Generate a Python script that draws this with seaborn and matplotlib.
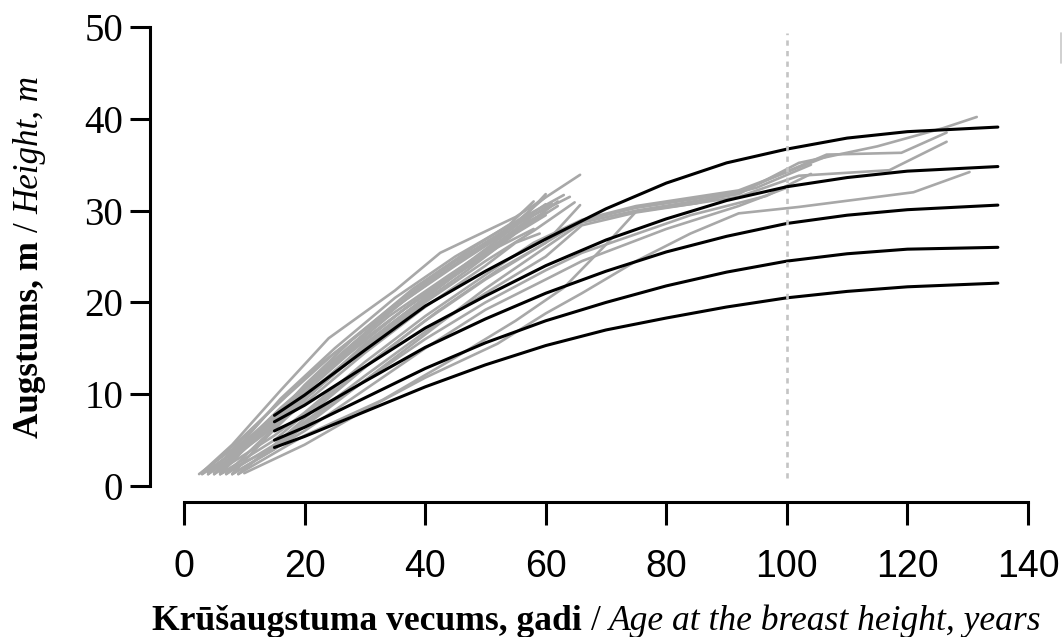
import numpy as np
import pandas as pd
import matplotlib
matplotlib.use("Agg")
import matplotlib.pyplot as plt
import seaborn as sns
from matplotlib.font_manager import FontProperties
from matplotlib.lines import Line2D

# ---------------- data ----------------
x_ticks = [0, 20, 40, 60, 80, 100, 120, 140]
y_ticks = [0, 10, 20, 30, 40, 50]
ref_age = 100

curve_ages = [15, 20, 30, 40, 50, 60, 70, 80, 90, 100, 110, 120, 135]
curve_h1 = [7.7, 9.9, 14.8, 19.6, 23.4, 26.9, 30.2, 33.0, 35.2, 36.7, 37.9, 38.6, 39.1]
curve_h2 = [7.0, 8.8, 13.0, 17.2, 20.7, 24.0, 26.8, 29.1, 31.1, 32.6, 33.6, 34.3, 34.8]
curve_h3 = [6.0, 7.6, 11.4, 15.1, 18.2, 21.0, 23.4, 25.5, 27.2, 28.6, 29.5, 30.1, 30.6]
curve_h4 = [5.0, 6.4, 9.6, 12.8, 15.6, 18.0, 20.0, 21.8, 23.3, 24.5, 25.3, 25.8, 26.0]
curve_h5 = [4.2, 5.4, 8.1, 10.8, 13.2, 15.3, 17.0, 18.3, 19.5, 20.5, 21.2, 21.7, 22.1]

young_ages = [
    [3, 8, 16, 24, 35, 42.5, 55, 65.7],
    [4, 10, 16, 25, 35, 45, 55, 63],
    [3, 10, 17, 25, 35, 45, 55, 64],
    [5, 10, 17, 25, 35, 45, 52, 60],
    [4, 10, 18, 26, 36, 46, 56, 62],
    [6, 12, 20, 28, 38, 48, 58, 60],
    [3, 9, 16, 24, 34, 44, 54, 59],
    [5, 11, 18, 27, 37, 47, 57, 62],
    [7, 12, 20, 30, 40, 50, 58, 61],
    [4, 10, 18, 27, 37, 47, 55, 60],
    [6, 12, 19, 28, 38, 48, 56, 60],
    [3, 8, 15, 24, 34, 44, 52, 58],
    [8, 14, 21, 30, 40, 50, 58, 64.8],
    [5, 11, 20, 30, 40, 50, 57, 60],
    [9, 15, 22, 32, 42, 52, 60, 65.7],
    [2.5, 8, 14, 22, 32, 42, 50, 56],
    [6, 13, 20, 28, 38, 48, 54, 58],
    [4, 12, 20, 30, 40, 50, 55, 59],
]
young_heights = [
    [1.5, 4.5, 10.4, 16.1, 21.3, 25.4, 29.3, 33.9],
    [1.3, 5.0, 9.5, 15.0, 20.5, 25.0, 28.8, 31.7],
    [1.4, 5.5, 9.8, 14.5, 19.8, 24.5, 28.5, 31.5],
    [1.3, 4.5, 9.0, 13.8, 19.5, 24.0, 27.0, 31.5],
    [1.5, 4.8, 9.5, 14.0, 19.0, 23.5, 28.0, 30.5],
    [1.3, 5.5, 10.5, 15.0, 20.0, 24.8, 29.8, 30.7],
    [1.3, 4.0, 8.5, 13.0, 18.5, 23.0, 27.3, 29.5],
    [1.4, 5.0, 9.0, 14.2, 19.5, 24.0, 28.5, 31.0],
    [1.3, 4.5, 9.5, 15.5, 20.5, 25.5, 29.5, 30.8],
    [1.3, 4.2, 8.2, 13.5, 18.8, 23.5, 27.5, 29.5],
    [1.4, 5.5, 10.0, 15.5, 21.0, 25.5, 29.0, 31.8],
    [1.3, 3.5, 7.0, 12.0, 17.5, 22.5, 26.0, 28.0],
    [1.3, 5.5, 10.0, 15.0, 20.0, 24.5, 27.8, 30.9],
    [1.3, 4.5, 9.5, 15.0, 20.5, 25.5, 28.8, 29.8],
    [1.3, 4.5, 8.5, 14.0, 19.0, 23.5, 26.5, 30.6],
    [1.3, 4.0, 8.0, 13.0, 18.0, 22.8, 26.5, 29.0],
    [1.3, 6.0, 11.0, 16.0, 21.5, 26.0, 28.5, 31.0],
    [1.3, 5.0, 9.0, 14.5, 19.5, 24.0, 26.5, 27.5],
]

old_ages = [
    [8, 15, 20, 30, 40, 50, 60, 66, 75, 92, 102, 115, 126, 131.5],
    [6, 15, 20, 30, 40, 50, 60, 66, 75, 92, 106.6, 119, 126.5],
    [7, 15, 20, 30, 40, 50, 60, 66, 75, 92, 102, 117, 126.5],
    [10, 20, 32, 40, 52, 60, 66, 75, 84, 92, 102, 121, 130.3],
    [5, 15, 20, 30, 40, 50, 58, 66, 75, 92, 100, 107],
    [9, 20, 33, 45, 55, 63, 70, 75, 85, 95, 104],
    [6, 15, 20, 30, 40, 50, 60, 66, 84, 96.6, 104],
    [8, 20, 30, 40, 50, 60, 66, 80, 92, 100],
]
old_heights = [
    [1.3, 4.0, 6.5, 11.5, 16.5, 21.5, 26.0, 28.7, 30.0, 31.8, 35.2, 37.0, 39.0, 40.2],
    [1.3, 5.0, 7.8, 13.0, 18.0, 22.5, 26.5, 28.9, 30.3, 32.0, 36.1, 36.3, 38.5],
    [1.3, 4.5, 7.0, 12.0, 16.8, 21.0, 25.0, 28.4, 29.8, 31.5, 33.8, 34.4, 37.5],
    [1.4, 4.5, 9.0, 11.8, 15.5, 18.8, 21.0, 24.5, 27.5, 29.7, 30.4, 32.0, 34.2],
    [1.3, 5.5, 8.0, 13.5, 18.5, 23.0, 26.5, 29.0, 30.5, 32.2, 34.2, 36.0],
    [1.3, 5.5, 9.4, 14.0, 18.0, 21.6, 26.3, 29.9, 30.8, 32.5, 35.0],
    [1.3, 4.2, 6.8, 11.5, 16.0, 20.0, 23.5, 25.4, 29.5, 31.6, 34.0],
    [1.3, 6.0, 10.5, 15.0, 19.2, 22.5, 24.5, 28.0, 30.5, 32.5],
]

x_label_parts = ["Krūšaugstuma vecums, gadi", "/", "Age at the breast height, years"]
y_label_parts = ["Augstums, m", "/", "Height, m"]

# ---------------- tables ----------------
rows = []
for i, (a, h) in enumerate(zip(young_ages + old_ages, young_heights + old_heights)):
    for aa, hh in zip(a, h):
        rows.append({"tree": i, "age": aa, "height": hh})
df_trees = pd.DataFrame(rows)

curve_rows = []
for j, ch in enumerate([curve_h1, curve_h2, curve_h3, curve_h4, curve_h5]):
    for aa, hh in zip(curve_ages, ch):
        curve_rows.append({"curve": j, "age": aa, "height": hh})
df_curves = pd.DataFrame(curve_rows)

# ---------------- figure ----------------
sns.set_theme(style="ticks")
plt.rcParams["font.family"] = ["Liberation Serif", "DejaVu Serif"]

W, H = 1064, 637
fig = plt.figure(figsize=(W / 100, H / 100), dpi=100)
ax_l, ax_r, ax_b, ax_t = 150, 1028, 502, 27
ax = fig.add_axes([ax_l / W, 1 - ax_b / H, (ax_r - ax_l) / W, (ax_b - ax_t) / H])

sns.lineplot(data=df_trees, x="age", y="height", units="tree", estimator=None,
             color="#A8A8A8", lw=1.9, sort=False, ax=ax, legend=False)
sns.lineplot(data=df_curves, x="age", y="height", units="curve", estimator=None,
             color="black", lw=2.2, sort=False, ax=ax, legend=False)
ax.vlines(ref_age, 0.9, 49.3, colors="#C4C4C4", linestyles=(0, (2.0, 2.0)), lw=1.9)

ax.set_xlim(-5.64, 140)
ax.set_ylim(-1.74, 50)
ax.set_xticks(x_ticks)
ax.set_yticks(y_ticks)
ax.set_xlabel("")
ax.set_ylabel("")
sns.despine(ax=ax)
for side in ["left", "bottom"]:
    ax.spines[side].set_linewidth(2.2)
    ax.spines[side].set_color("black")
ax.spines["left"].set_bounds(0, 50)
ax.spines["bottom"].set_bounds(0, 140)
ax.tick_params(axis="x", length=16.5, width=2.2, pad=17, color="black", direction="out")
ax.tick_params(axis="y", length=14.4, width=2.2, pad=5, color="black", direction="out")
for lab in ax.get_xticklabels():
    lab.set_fontfamily("Liberation Sans")
    lab.set_fontsize(27)
    lab.set_color("black")
for lab in ax.get_yticklabels():
    lab.set_fontfamily("Liberation Serif")
    lab.set_fontsize(28)
    lab.set_color("black")

# small grey frame fragment at top right
fig.add_artist(Line2D([1061 / W, 1061 / W], [1 - 33 / H, 1 - 63 / H],
                      transform=fig.transFigure, color="#C8C8C8", lw=1.2))

# ---------------- rich axis labels ----------------
renderer = fig.canvas.get_renderer()
styles = [("bold", "normal"), ("normal", "normal"), ("normal", "italic")]


def fp(size, weight, style):
    return FontProperties(family="Liberation Serif", size=size, weight=weight, style=style)


def measure(s, prop):
    t = fig.text(0, 0, s, fontproperties=prop)
    w = t.get_window_extent(renderer=renderer).width
    t.remove()
    return w


def rich(parts, start_px, base_px, target_len, vertical):
    size0 = 24.0
    def layout(size):
        ws = [measure(p, fp(size, *st)) for p, st in zip(parts, styles)]
        reg = fp(size, "normal", "normal")
        sp = measure("a a", reg) - measure("aa", reg)
        return ws, sp
    ws, sp = layout(size0)
    total = sum(ws) + sp * (len(parts) - 1)
    size = size0 * target_len / total
    ws, sp = layout(size)
    pos = start_px
    for p, st, w in zip(parts, styles, ws):
        prop = fp(size, *st)
        if vertical:
            fig.text(base_px / W, 1 - pos / H, p, fontproperties=prop, rotation=90,
                     rotation_mode="anchor", ha="left", va="baseline", color="black")
            pos -= w + sp
        else:
            fig.text(pos / W, 1 - base_px / H, p, fontproperties=prop,
                     ha="left", va="baseline", color="black")
            pos += w + sp


rich(x_label_parts, 152, 630, 1045 - 152, vertical=False)
rich(y_label_parts, 438, 38, 438 - 76, vertical=True)

fig.savefig("out.png", dpi=100)
